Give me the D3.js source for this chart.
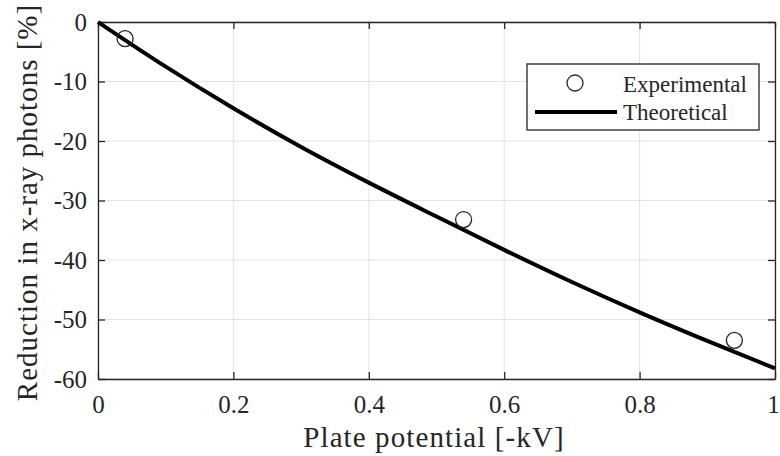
<!DOCTYPE html>
<html>
<head>
<meta charset="utf-8">
<script src="https://cdn.jsdelivr.net/npm/d3@7"></script>
<style>
  html, body { margin: 0; padding: 0; background: #fff; }
  svg { display: block; }
  text { font-family: "Liberation Serif", "Times New Roman", serif; fill: #262626; }
</style>
</head>
<body>
<svg id="chart" width="780" height="456"></svg>
<script>
// Measured reduction in x-ray photon count at each plate potential
const expPotential = [0.04, 0.54, 0.94];
const expReduction = [-2.8, -33.2, -53.5];

// Model curve
const theoPotential = [0, 0.1, 0.2, 0.3, 0.4, 0.5, 0.6, 0.7, 0.8, 0.9, 1.0];
const theoReduction = [0, -7.5, -14.5, -21.0, -27.0, -32.7, -38.3, -43.7, -48.8, -53.6, -58.2];

const xTicks = [0, 0.2, 0.4, 0.6, 0.8, 1];
const xTickLabels = ["0", "0.2", "0.4", "0.6", "0.8", "1"];
const yTicks = [0, -10, -20, -30, -40, -50, -60];
const yTickLabels = ["0", "-10", "-20", "-30", "-40", "-50", "-60"];

const legendLabels = ["Experimental", "Theoretical"];

const W = 780, H = 456;
const m = { left: 98, top: 22, right: 5, bottom: 77 };
const svg = d3.select("#chart");
const serif = '"Liberation Serif", "Times New Roman", serif';

const x = d3.scaleLinear().domain([0, 1]).range([m.left, W - m.right]);
const y = d3.scaleLinear().domain([-60, 0]).range([H - m.bottom, m.top]);

const axisColor = "#262626";
const tickLen = 7;

// grid
const grid = svg.append("g");
grid.selectAll("line.gx").data(xTicks).join("line")
  .attr("x1", d => x(d)).attr("x2", d => x(d))
  .attr("y1", y(-60)).attr("y2", y(0))
  .attr("stroke", "#e3e3e3").attr("stroke-width", 1);
grid.selectAll("line.gy").data(yTicks).join("line")
  .attr("y1", d => y(d)).attr("y2", d => y(d))
  .attr("x1", x(0)).attr("x2", x(1))
  .attr("stroke", "#e3e3e3").attr("stroke-width", 1);

// axes with inward ticks on all four sides
const xAxisB = d3.axisBottom(x).tickValues(xTicks).tickSizeInner(-tickLen).tickSizeOuter(0)
  .tickFormat((d, i) => xTickLabels[i]).tickPadding(16);
const xAxisT = d3.axisTop(x).tickValues(xTicks).tickSizeInner(-tickLen).tickSizeOuter(0).tickFormat("");
const yAxisL = d3.axisLeft(y).tickValues(yTicks).tickSizeInner(-tickLen).tickSizeOuter(0)
  .tickFormat((d, i) => yTickLabels[i]).tickPadding(11);
const yAxisR = d3.axisRight(y).tickValues(yTicks).tickSizeInner(-tickLen).tickSizeOuter(0).tickFormat("");

function styleAxis(g) {
  g.attr("font-family", serif).attr("font-size", 25);
  g.select(".domain").attr("stroke", axisColor).attr("stroke-width", 1.3);
  g.selectAll(".tick line").attr("stroke", axisColor).attr("stroke-width", 1.3);
  g.selectAll(".tick text").attr("fill", axisColor)
    .style("font-family", serif).style("font-size", "25px");
}

const gxB = svg.append("g").attr("transform", `translate(0,${y(-60)})`).call(xAxisB).call(styleAxis);
// keep the last label inside the figure edge
gxB.selectAll(".tick text").filter(d => d === 1).attr("dx", -2);
svg.append("g").attr("transform", `translate(0,${y(0)})`).call(xAxisT).call(styleAxis);
svg.append("g").attr("transform", `translate(${x(0)},0)`).call(yAxisL).call(styleAxis);
svg.append("g").attr("transform", `translate(${x(1)},0)`).call(yAxisR).call(styleAxis);

// theoretical curve
const line = d3.line().x(d => x(d[0])).y(d => y(d[1])).curve(d3.curveMonotoneX);
svg.append("path")
  .datum(theoPotential.map((p, i) => [p, theoReduction[i]]))
  .attr("d", line).attr("fill", "none").attr("stroke", "#000").attr("stroke-width", 4);

// experimental points
svg.selectAll("circle.exp").data(expPotential.map((p, i) => [p, expReduction[i]])).join("circle")
  .attr("cx", d => x(d[0])).attr("cy", d => y(d[1])).attr("r", 8)
  .attr("fill", "none").attr("stroke", "#262626").attr("stroke-width", 1.3);

// axis titles
svg.append("text").attr("x", 434).attr("y", 447)
  .attr("text-anchor", "middle").style("font-family", serif)
  .style("font-size", "29px").style("letter-spacing", "1.1px")
  .text("Plate potential [-kV]");
svg.append("text").attr("transform", "translate(37,202.5) rotate(-90)")
  .attr("text-anchor", "middle").style("font-family", serif)
  .style("font-size", "29px").style("letter-spacing", "1px")
  .text("Reduction in x-ray photons [%]");

// legend
const lg = svg.append("g");
lg.append("rect").attr("x", 527).attr("y", 64).attr("width", 232).attr("height", 66)
  .attr("fill", "#fff").attr("stroke", axisColor).attr("stroke-width", 1.3);
lg.append("circle").attr("cx", 575).attr("cy", 83).attr("r", 8)
  .attr("fill", "none").attr("stroke", "#262626").attr("stroke-width", 1.3);
lg.append("line").attr("x1", 535).attr("x2", 617).attr("y1", 112).attr("y2", 112)
  .attr("stroke", "#000").attr("stroke-width", 4);
lg.selectAll("text.leg").data(legendLabels).join("text")
  .attr("x", 623).attr("y", (d, i) => 92 + i * 28)
  .style("font-family", serif).style("font-size", "23px").attr("fill", "#111").text(d => d);
</script>
</body>
</html>
